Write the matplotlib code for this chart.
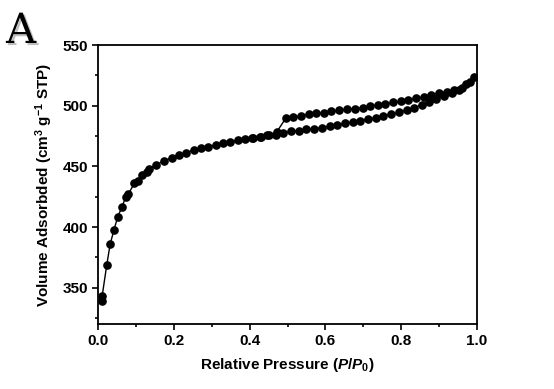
import matplotlib
matplotlib.use('Agg')
import matplotlib.pyplot as plt
import matplotlib.patheffects as pe

plt.rcParams['font.family'] = ['Liberation Sans', 'DejaVu Sans']
plt.rcParams['font.weight'] = 'bold'
plt.rcParams['mathtext.fontset'] = 'custom'
plt.rcParams['mathtext.rm'] = 'Liberation Sans:bold'
plt.rcParams['mathtext.bf'] = 'Liberation Sans:bold'
plt.rcParams['mathtext.it'] = 'Liberation Sans:bold:italic'

# adsorcion (rama baja)
p_ads = [0.010, 0.011, 0.023, 0.032, 0.042, 0.052, 0.063, 0.073, 0.080, 0.096,
         0.105, 0.117, 0.129, 0.135, 0.153, 0.175, 0.194, 0.213, 0.233, 0.252,
         0.272, 0.291, 0.310, 0.330, 0.349, 0.369, 0.388, 0.407, 0.427, 0.446,
         0.469, 0.489, 0.510, 0.530, 0.550, 0.571, 0.591, 0.611, 0.631, 0.652,
         0.672, 0.692, 0.712, 0.733, 0.753, 0.773, 0.794, 0.814, 0.834, 0.854,
         0.874, 0.893, 0.914, 0.933, 0.952, 0.971, 0.991]
v_ads = [339.1, 343.5, 368.8, 386.0, 397.6, 408.6, 416.3, 425.0, 427.3, 436.1,
         438.2, 443.2, 445.6, 447.9, 451.4, 454.6, 457.1, 459.3, 461.4, 463.3,
         464.8, 466.2, 467.6, 469.0, 470.3, 471.5, 472.3, 473.1, 474.0, 475.6,
         476.1, 477.2, 479.0, 479.4, 480.5, 481.0, 481.9, 483.3, 484.1, 485.5,
         486.6, 487.6, 488.8, 490.1, 491.5, 492.9, 494.5, 496.5, 498.4, 500.6,
         502.8, 505.3, 508.0, 510.7, 513.2, 517.9, 523.4]

# desorcion (rama alta)
p_des = [0.981, 0.960, 0.940, 0.921, 0.899, 0.879, 0.860, 0.839, 0.819, 0.799,
         0.779, 0.758, 0.738, 0.718, 0.698, 0.677, 0.657, 0.637, 0.616, 0.596,
         0.576, 0.556, 0.535, 0.515, 0.495, 0.471, 0.450, 0.430, 0.410]
v_des = [519.5, 515.0, 512.9, 511.5, 510.7, 508.8, 507.2, 506.1, 504.7, 503.6,
         502.8, 501.6, 500.8, 499.5, 498.4, 497.5, 497.0, 496.2, 495.4, 494.2,
         493.7, 492.9, 491.8, 490.7, 489.6, 478.1, 475.9, 474.3, 473.4]

fig = plt.figure(figsize=(5.54, 3.89), dpi=100)
ax = fig.add_axes([0.177, 0.167, 0.684, 0.717])

ax.plot(p_ads + p_des, v_ads + v_des, color='black', lw=1.0,
        marker='o', markersize=5.2, markerfacecolor='black', markeredgecolor='black')

ax.set_xlim(0, 1.0)
ax.set_ylim(320, 550)
ax.set_xticks([0.0, 0.2, 0.4, 0.6, 0.8, 1.0])
ax.set_xticks([0.1, 0.3, 0.5, 0.7, 0.9], minor=True)
ax.set_yticks([350, 400, 450, 500, 550])
ax.set_yticks([325, 375, 425, 475, 525], minor=True)
ax.tick_params(which='both', direction='out', top=False, right=False,
               labelsize=11, width=1.2, pad=3)
ax.tick_params(which='major', length=4)
ax.tick_params(which='minor', length=2.5)
for lbl in ax.get_xticklabels() + ax.get_yticklabels():
    lbl.set_fontweight('bold')
for s in ax.spines.values():
    s.set_linewidth(1.3)

ax.set_xlabel(r'Relative Pressure ($P/P_{\mathit{0}}$)', fontsize=11, fontweight='bold', labelpad=6)
ax.set_ylabel(r'Volume Adsorbded (cm$^{3}$ g$^{-1}$ STP)', fontsize=11, fontweight='bold', labelpad=6)

fig.text(0.011, 1 - 43 / 389, 'A', family='DejaVu Serif', fontsize=30, fontweight='normal',
         va='baseline',
         path_effects=[pe.SimplePatchShadow(offset=(1.5, -1.5), alpha=0.25), pe.Normal()])

plt.savefig('out.png', dpi=100)
